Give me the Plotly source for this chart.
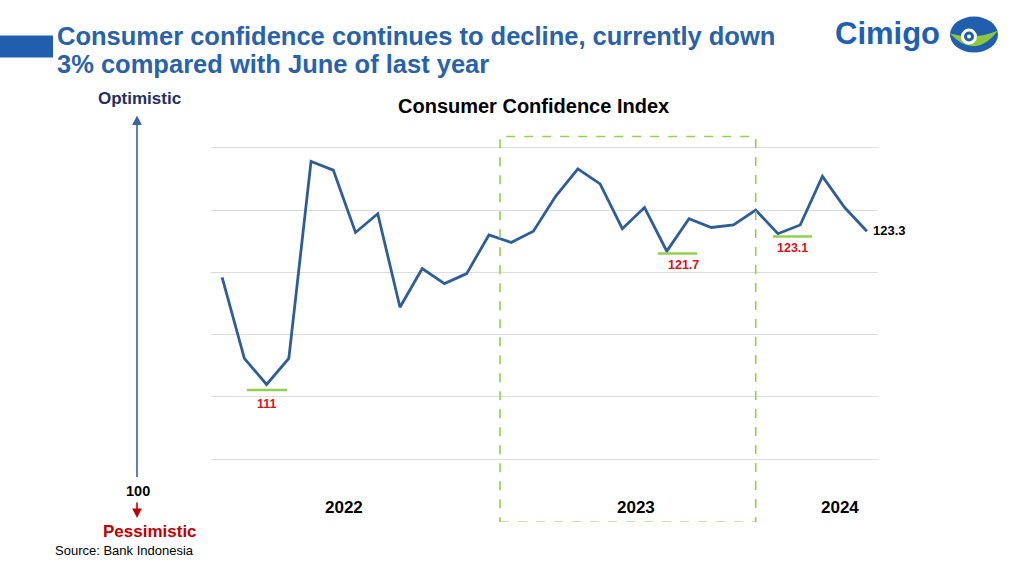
import plotly.graph_objects as go

# ---- data ----
months = ["2022-%02d" % m for m in range(1, 13)] + ["2023-%02d" % m for m in range(1, 13)] + ["2024-%02d" % m for m in range(1, 7)]
cci = [119.6, 113.1, 111.0, 113.1, 128.9, 128.2, 123.2, 124.7, 117.2, 120.3, 119.1, 119.9,
       123.0, 122.4, 123.3, 126.1, 128.3, 127.1, 123.5, 125.2, 121.7, 124.3, 123.6, 123.8,
       125.0, 123.1, 123.8, 127.7, 125.2, 123.3]
year_labels = ["2022", "2023", "2024"]
year_pos = [5.5, 18.6, 27.8]
low_idx = [2, 20, 25]
low_text = ["111", "121.7", "123.1"]

W, H = 1024, 576
L, R, T, B = 211, 878, 84.5, 522


def px(x):
    return (x - L) / (R - L)


def py(y):
    return (B - y) / (B - T)


BLUE_LINE = "#2f5d97"
GREEN = "#92d050"
RED = "#e0101a"

fig = go.Figure()
fig.add_trace(go.Scatter(x=list(range(len(cci))), y=cci, mode="lines",
                         line=dict(color=BLUE_LINE, width=2.8), hoverinfo="skip",
                         showlegend=False))

shapes = []
annotations = []

# highlight box for 2023
shapes.append(dict(type="rect", xref="x", yref="y", x0=12.5, x1=24, y0=99.95, y1=130.9,
                   line=dict(color=GREEN, width=1.6, dash="dash"), fillcolor="rgba(0,0,0,0)"))

# low markers
offs = {2: (-0.88, 0.92, -0.44, 0.02, -1.56), 20: (-0.4, 1.36, -0.18, 0.73, -1.14), 25: (-0.23, 1.53, -0.22, 0.67, -1.18)}
for i, t in zip(low_idx, low_text):
    a, b, dy, lx, ly = offs[i]
    shapes.append(dict(type="line", xref="x", yref="y", x0=i + a, x1=i + b, y0=cci[i] + dy, y1=cci[i] + dy,
                       line=dict(color=GREEN, width=2.5)))
    annotations.append(dict(x=i + lx, y=cci[i] + ly, xref="x", yref="y", text="<b>%s</b>" % t, showarrow=False,
                            font=dict(family="Arial", size=12.5, color=RED), xanchor="center", yanchor="middle"))

# end label
annotations.append(dict(x=len(cci) - 1, y=cci[-1], xref="x", yref="y", text="<b>%.1f</b>" % cci[-1], showarrow=False,
                        xanchor="left", yanchor="middle", xshift=4, yshift=1,
                        font=dict(family="Arial", size=13, color="black")))

# year labels
for yl, xp in zip(year_labels, year_pos):
    annotations.append(dict(x=xp, y=py(507), xref="x", yref="paper", text="<b>%s</b>" % yl, showarrow=False,
                            xanchor="center", yanchor="middle",
                            font=dict(family="Liberation Sans Narrow, Arial Narrow, Arial", size=17, color="black")))

# chart title
annotations.append(dict(x=px(533), y=py(106), xref="paper", yref="paper", text="<b>Consumer Confidence Index</b>",
                        showarrow=False, xanchor="center", yanchor="middle",
                        font=dict(family="Arial", size=20, color="black")))

# main title
for txt, yc in [("Consumer confidence continues to decline, currently down", 35),
                ("3% compared with June of last year", 63)]:
    annotations.append(dict(x=px(55), y=py(yc), xref="paper", yref="paper",
                            text="<b>%s</b>" % txt,
                            showarrow=False, xanchor="left", yanchor="middle", align="left",
                            font=dict(family="Arial", size=25.5, color="#2962aa")))
shapes.append(dict(type="rect", xref="paper", yref="paper", x0=px(0), x1=px(53), y0=py(57), y1=py(35),
                   fillcolor="#1f5fae", line=dict(width=0)))

# left optimistic / pessimistic axis
annotations.append(dict(x=px(139), y=py(98), xref="paper", yref="paper", text="<b>Optimistic</b>", showarrow=False,
                        xanchor="center", yanchor="middle", font=dict(family="Arial", size=17, color="#1f2f66")))
annotations.append(dict(x=px(137), y=py(115), xref="paper", yref="paper", ax=0, ay=478 - 115, text="",
                        showarrow=True, arrowhead=2, arrowsize=1.2, arrowwidth=1.6, arrowcolor="#3a64a0"))
annotations.append(dict(x=px(138), y=py(491), xref="paper", yref="paper", text="<b>100</b>", showarrow=False,
                        xanchor="center", yanchor="middle", font=dict(family="Arial", size=14.5, color="black")))
annotations.append(dict(x=px(137), y=py(518), xref="paper", yref="paper", ax=0, ay=-17, text="",
                        showarrow=True, arrowhead=2, arrowsize=1.2, arrowwidth=1.6, arrowcolor="#c00000"))
annotations.append(dict(x=px(150), y=py(532), xref="paper", yref="paper", text="<b>Pessimistic</b>", showarrow=False,
                        xanchor="center", yanchor="middle", font=dict(family="Arial", size=17, color="#c00000")))
annotations.append(dict(x=px(53), y=py(551), xref="paper", yref="paper", text="Source: Bank Indonesia",
                        showarrow=False, xanchor="left", yanchor="middle",
                        font=dict(family="Arial", size=13, color="black")))

# logo
annotations.append(dict(x=px(833), y=py(33), xref="paper", yref="paper", text="<b>Cimigo</b>", showarrow=False,
                        xanchor="left", yanchor="middle", font=dict(family="Arial", size=31, color="#2060b0")))
shapes.append(dict(type="circle", xref="paper", yref="paper", x0=px(950), x1=px(998), y0=py(52), y1=py(16),
                   fillcolor="#1f5fae", line=dict(width=0)))
shapes.append(dict(type="path", xref="paper", yref="paper",
                   path="M %f,%f Q %f,%f %f,%f Q %f,%f %f,%f Z" % (
                       px(950), py(33), px(975), py(60), px(998), py(30),
                       px(975), py(40), px(950), py(33)),
                   fillcolor="#8dc63f", line=dict(width=0)))
shapes.append(dict(type="circle", xref="paper", yref="paper", x0=px(961), x1=px(977), y0=py(44), y1=py(28),
                   fillcolor="white", line=dict(width=0)))
shapes.append(dict(type="circle", xref="paper", yref="paper", x0=px(964), x1=px(974), y0=py(41), y1=py(31),
                   fillcolor="#1f5fae", line=dict(width=0)))
shapes.append(dict(type="circle", xref="paper", yref="paper", x0=px(967), x1=px(971), y0=py(38), y1=py(34),
                   fillcolor="white", line=dict(width=0)))

fig.update_layout(
    width=W, height=H,
    margin=dict(l=L, r=W - R, t=T, b=H - B, pad=0),
    paper_bgcolor="white", plot_bgcolor="white",
    xaxis=dict(range=[-0.5, 29.5], showgrid=False, showticklabels=False, zeroline=False, showline=False,
               ticks=""),
    yaxis=dict(range=[99.97, 135.03], dtick=5, tick0=100, showgrid=True, gridcolor="#dcdcdc", gridwidth=1,
               showticklabels=False, zeroline=False, showline=False, ticks=""),
    shapes=shapes, annotations=annotations, showlegend=False,
)

fig.write_html("out.html", config={"displayModeBar": False},
               post_script="document.body.style.margin='0';document.body.style.overflow='hidden';")
